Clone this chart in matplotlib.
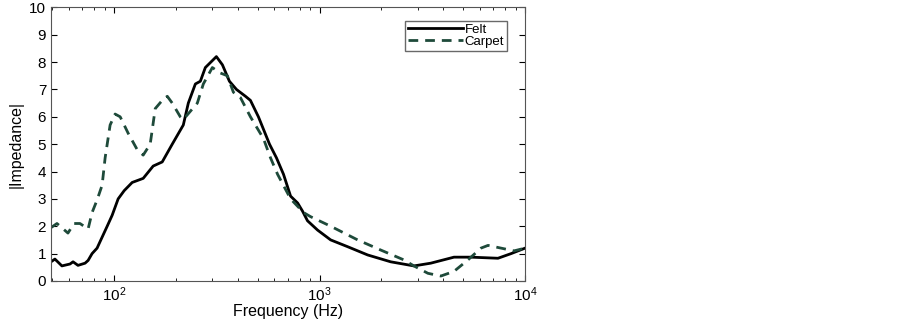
import numpy as np
import matplotlib.pyplot as plt

plt.rcParams['font.family'] = ['Liberation Sans', 'DejaVu Sans']

felt_f = [49.3, 51.5, 55.7, 61.0, 63.1, 66.7, 72.2, 74.7, 78.1, 82.6, 87.4, 92.5,
          97.8, 104.6, 111.9, 122.4, 138.5, 154.9, 171.4, 191.8, 217.1, 229.6,
          248.5, 262.8, 277.9, 314.5, 336.5, 363.9, 393.8, 435.6, 460.6, 503.7,
          570.3, 616.6, 667.1, 722.3, 781.6, 826.0, 873.0, 977.2, 1132, 1371,
          1714, 2218, 2877, 3475, 4508, 5456, 7381, 8551, 10000]
felt_z = [0.7, 0.8, 0.55, 0.62, 0.7, 0.57, 0.65, 0.75, 1.0, 1.2, 1.6, 2.0,
          2.4, 3.0, 3.3, 3.6, 3.75, 4.2, 4.35, 5.0, 5.7, 6.5,
          7.2, 7.3, 7.8, 8.2, 7.9, 7.3, 7.0, 6.75, 6.6, 6.0,
          5.0, 4.5, 3.9, 3.1, 2.85, 2.55, 2.2, 1.86, 1.5, 1.25,
          0.95, 0.7, 0.55, 0.65, 0.87, 0.87, 0.83, 1.0, 1.2]

carpet_f = [49.3, 52.7, 59.6, 63.8, 68.2, 74.7, 78.1, 82.6, 87.4, 90.4, 95.6,
            101.1, 107.0, 117.0, 129.5, 138.5, 149.8, 158.5, 171.4, 181.4,
            191.8, 209.9, 217.1, 234.8, 254.0, 271.7, 300.6, 328.9, 355.7,
            380.4, 411.9, 460.6, 533.3, 576.8, 624.2, 722.3, 835.6, 903.6,
            1132, 1532, 1984, 2570, 2877, 3365, 3890, 4508, 5272, 6099, 6600,
            7638, 8835, 10000]
carpet_z = [1.95, 2.1, 1.75, 2.1, 2.1, 1.9, 2.5, 2.96, 3.5, 4.5, 5.7,
            6.1, 6.0, 5.4, 4.8, 4.6, 5.0, 6.3, 6.6, 6.75,
            6.5, 6.0, 5.9, 6.2, 6.5, 7.2, 7.8, 7.6, 7.5,
            6.9, 6.7, 6.0, 5.2, 4.5, 3.9, 3.0, 2.5, 2.35,
            2.0, 1.5, 1.13, 0.77, 0.55, 0.28, 0.18, 0.35, 0.77, 1.2, 1.3,
            1.2, 1.1, 1.2]

fig = plt.figure(figsize=(9.03, 3.2), dpi=100)
ax = fig.add_axes([0.0565, 0.122, 0.525, 0.855])

ax.plot(felt_f, felt_z, color='black', lw=2, label='Felt')
ax.plot(carpet_f, carpet_z, color='#1e4a3a', lw=2, ls=(0, (3.5, 2.5)), label='Carpet')

ax.set_xscale('log')
ax.set_xlim(49.3, 10000)
ax.set_ylim(0, 10)
ax.set_yticks(range(0, 11))
ax.tick_params(which='both', direction='in', top=True, right=True, labelsize=11)
ax.tick_params(which='major', length=4)
ax.tick_params(which='minor', length=2)
ax.set_xlabel('Frequency (Hz)', fontsize=11.5, labelpad=0)
ax.set_ylabel('|Impedance|', fontsize=11.5, labelpad=4)
for s in ax.spines.values():
    s.set_color('#555555')

leg = ax.legend(loc='upper right', fontsize=9.5, fancybox=False, edgecolor='#444444',
                handlelength=4.2, handletextpad=0.1, borderpad=0.2, labelspacing=0.0,
                bbox_to_anchor=(0.975, 0.975))
leg.get_frame().set_linewidth(1.0)

fig.savefig('out.png', dpi=100)
